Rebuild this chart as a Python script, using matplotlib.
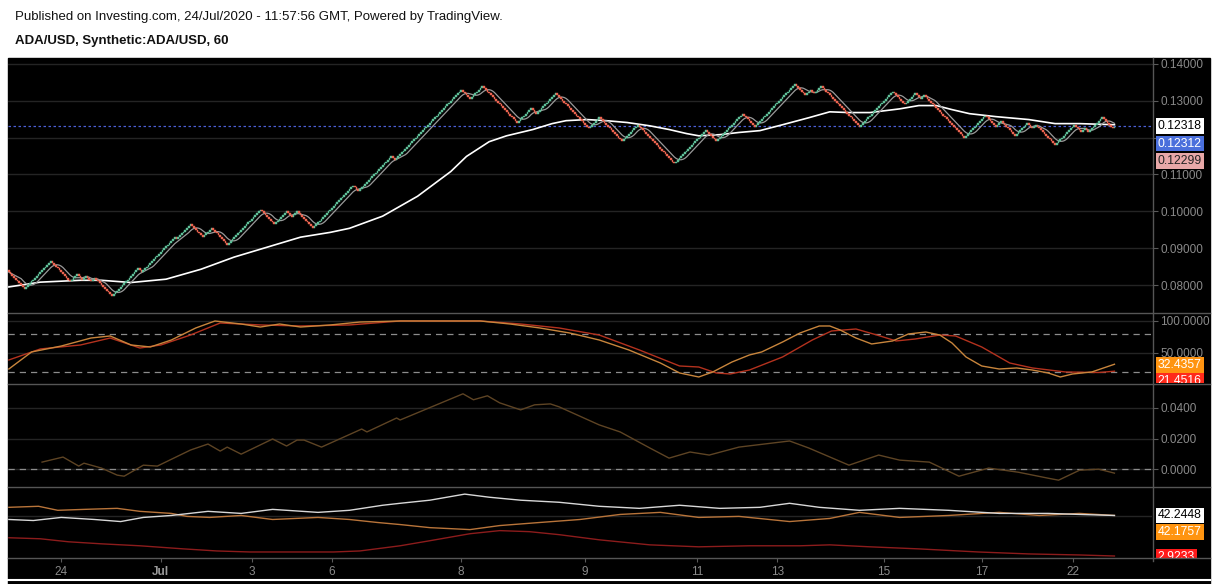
import numpy as np
import pandas as pd
import matplotlib
matplotlib.use("Agg")
import matplotlib.pyplot as plt
from matplotlib.lines import Line2D
from matplotlib.patches import Rectangle

# ---- data ----
# renko reversal levels (price), brick size 0.0005
renko_pivots = [0.0838, 0.0789, 0.0865, 0.0811, 0.0830, 0.0815, 0.0825, 0.0810, 0.0820,
                0.0805, 0.0768, 0.0843, 0.0835, 0.0932, 0.0924, 0.0965, 0.0932, 0.0957,
                0.0911, 0.1005, 0.0965, 0.1000, 0.0986, 0.1000, 0.0954, 0.1068, 0.1054,
                0.1151, 0.1138, 0.1332, 0.1303, 0.1340, 0.1240, 0.1281, 0.1265, 0.1319,
                0.1224, 0.1257, 0.1192, 0.1235, 0.1132, 0.1219, 0.1192, 0.1265, 0.1230,
                0.1343, 0.1316, 0.1332, 0.1322, 0.1338, 0.1230, 0.1327, 0.1292, 0.1322,
                0.1303, 0.1316, 0.1200, 0.1262, 0.1230, 0.1246, 0.1203, 0.1238, 0.1227,
                0.1235, 0.1181, 0.1235, 0.1216, 0.1227, 0.1214, 0.1254, 0.1224, 0.1230]
box_size = 0.0005

# slow moving average (white), x = brick index
slow_ma_x = [0, 18, 41, 53, 70, 90, 110, 129, 148, 167, 184, 195, 214, 234, 253, 262, 275,
             285, 300, 311, 319, 331, 342, 354, 367, 378, 388, 395, 407, 418, 430, 443, 458,
             470, 481, 493, 510, 521, 531, 540, 550, 565, 584, 599, 613, 633]
slow_ma = [0.0795, 0.0808, 0.0813, 0.0813, 0.0807, 0.0816, 0.0843, 0.0876, 0.0903, 0.0930,
           0.0943, 0.0954, 0.0987, 0.1041, 0.1108, 0.1149, 0.1189, 0.1205, 0.1222, 0.1238,
           0.1246, 0.1249, 0.1246, 0.1241, 0.1232, 0.1222, 0.1211, 0.1205, 0.1208, 0.1214,
           0.1219, 0.1235, 0.1254, 0.1270, 0.1268, 0.1268, 0.1278, 0.1287, 0.1287, 0.1276,
           0.1265, 0.1257, 0.1249, 0.1238, 0.1238, 0.1235]

# stochastic
stoch_k_x = [0, 13, 30, 47, 58, 70, 81, 93, 107, 118, 133, 144, 155, 167, 184, 201, 224, 253,
             270, 287, 304, 321, 338, 355, 373, 384, 395, 403, 414, 424, 431, 443, 453, 464,
             470, 476, 485, 494, 506, 515, 525, 533, 540, 548, 557, 567, 577, 586, 595, 602,
             609, 620, 633]
stoch_k = [25.0, 51.6, 60.9, 73.4, 76.6, 62.5, 59.4, 70.3, 89.1, 100.0, 95.3, 90.6, 95.3,
           90.6, 93.8, 98.4, 100.0, 100.0, 100.0, 95.3, 89.1, 81.3, 70.3, 54.7, 34.4, 18.8,
           12.5, 20.3, 35.9, 46.9, 51.6, 67.2, 81.3, 92.2, 92.2, 85.9, 73.4, 64.1, 68.8, 79.7,
           82.8, 78.1, 65.6, 43.8, 29.7, 25.0, 26.6, 23.4, 18.8, 12.5, 17.2, 20.3, 32.4]
stoch_d_x = [0, 18, 41, 58, 75, 87, 104, 121, 144, 167, 195, 224, 270, 293, 315, 338, 361,
             384, 395, 405, 413, 424, 443, 460, 471, 485, 497, 508, 519, 533, 542, 557, 573,
             586, 605, 624, 633]
stoch_d = [39.1, 56.3, 62.5, 73.4, 57.8, 62.5, 78.1, 96.9, 93.8, 92.2, 93.8, 100.0, 100.0,
           95.3, 89.1, 78.1, 54.7, 29.7, 28.1, 18.8, 17.2, 23.4, 43.8, 70.3, 84.4, 87.5, 78.1,
           68.8, 71.9, 78.1, 76.6, 59.4, 34.4, 26.6, 20.3, 19.5, 21.5]

# momentum
mom_x = [19, 31, 40, 43, 53, 62, 66, 77, 85, 104, 114, 121, 125, 133, 151, 159, 165, 169,
         179, 202, 205, 222, 224, 260, 266, 274, 281, 293, 301, 310, 315, 338, 350, 367, 378,
         390, 401, 418, 447, 458, 481, 498, 510, 527, 544, 561, 578, 595, 601, 613, 624, 633]
mom = [0.0046, 0.0079, 0.0020, 0.0039, 0.0007, -0.0039, -0.0046, 0.0026, 0.0020, 0.0125,
       0.0164, 0.0118, 0.0144, 0.0098, 0.0197, 0.0151, 0.0190, 0.0190, 0.0144, 0.0262, 0.0243,
       0.0334, 0.0321, 0.0492, 0.0453, 0.0479, 0.0433, 0.0387, 0.0420, 0.0426, 0.0407, 0.0289,
       0.0243, 0.0138, 0.0072, 0.0112, 0.0092, 0.0144, 0.0184, 0.0138, 0.0026, 0.0092, 0.0059,
       0.0046, -0.0046, 0.0007, -0.0020, -0.0059, -0.0072, -0.0007, 0.0, -0.0026]

# directional movement
dmi_w_x = [0, 14, 30, 49, 64, 77, 93, 114, 133, 151, 177, 195, 214, 224, 241, 261, 275, 293,
           315, 338, 361, 384, 407, 430, 447, 464, 487, 510, 538, 567, 595, 613, 633]
dmi_white = [38.3, 37.3, 40.3, 38.3, 36.3, 40.3, 42.2, 46.2, 44.2, 48.1, 45.2, 47.2, 52.1,
             54.0, 57.0, 62.9, 59.9, 57.0, 55.0, 51.1, 49.1, 52.1, 49.1, 50.1, 54.0, 50.1,
             47.2, 49.1, 47.2, 44.2, 44.2, 43.2, 42.2]
dmi_o_x = [0, 17, 28, 43, 62, 75, 93, 102, 115, 133, 151, 177, 195, 211, 224, 241, 264, 281,
           304, 327, 350, 373, 395, 418, 447, 470, 487, 510, 538, 567, 590, 613, 633]
dmi_orange = [50.1, 51.1, 47.2, 48.1, 49.1, 46.2, 44.2, 41.3, 40.3, 42.2, 38.3, 40.3, 38.3,
              35.4, 33.4, 30.4, 28.5, 32.4, 35.4, 38.3, 43.2, 45.2, 40.3, 41.3, 36.3, 39.3,
              45.2, 40.3, 42.2, 45.2, 42.2, 44.2, 42.2]
dmi_r_x = [0, 18, 34, 53, 75, 100, 119, 138, 167, 186, 201, 224, 241, 264, 281, 298, 315, 338,
           367, 395, 424, 453, 470, 493, 521, 555, 584, 613, 633]
dmi_red = [20.6, 19.6, 16.7, 14.7, 12.8, 9.8, 7.8, 6.8, 6.8, 6.8, 7.8, 12.8, 17.7, 24.5, 27.5,
           26.5, 23.6, 18.6, 13.7, 11.8, 12.8, 12.8, 13.7, 11.8, 9.8, 6.8, 4.9, 3.9, 2.9]

date_ticks = [30, 87, 139, 185, 259, 330, 394, 440, 501, 557, 609]
date_labels = ['24', 'Jul', '3', '6', '8', '9', '11', '13', '15', '17', '22']

# ---- build renko bricks ----
levels = np.round(np.array(renko_pivots) / box_size).astype(int)
brick_low, brick_up = [], []
lvl = levels[0]
for tgt in levels[1:]:
    step = 1 if tgt > lvl else -1
    for k in range(lvl, tgt, step):
        brick_low.append(k if step > 0 else k - 1)
        brick_up.append(step > 0)
    lvl = tgt
brick_low = np.array(brick_low) * box_size
brick_up = np.array(brick_up)
closes = np.where(brick_up, brick_low + box_size, brick_low)
n = len(closes)
bx = np.arange(n)
fast_ma = pd.Series(closes).rolling(8, min_periods=1).mean()

# ---- figure ----
W, H = 1215, 584
fig = plt.figure(figsize=(W / 100, H / 100), dpi=100, facecolor='white')
plt.rcParams['font.family'] = ['Liberation Sans', 'DejaVu Sans']

fig.patches.append(Rectangle((8 / W, 0), (1210 - 8) / W, 1 - 58 / H,
                             transform=fig.transFigure, color='black', zorder=-5))
fig.add_artist(Line2D([8 / W, 1210 / W], [1 - 579.5 / H] * 2, color='white', lw=1.5))

fig.text(15 / W, 1 - 17 / H, 'Published on Investing.com, 24/Jul/2020 - 11:57:56 GMT, Powered by TradingView.',
         fontsize=9.5, va='center', color='#111111')
fig.text(15 / W, 1 - 41 / H, 'ADA/USD, Synthetic:ADA/USD, 60', fontsize=9.5,
         fontweight='bold', va='center', color='#111111')

tick_col = '#8a8a8a'
grid_col = '#242424'
xlim = (-0.5, n - 0.5 + 21)


def px_axes(x0, y0, x1, y1):
    return fig.add_axes([x0 / W, 1 - y1 / H, (x1 - x0) / W, (y1 - y0) / H])


def style(ax, ylim, ticks=None, fmt=None, hidden=()):
    ax.set_facecolor('black')
    ax.set_xlim(*xlim)
    ax.set_ylim(*ylim)
    for s in ax.spines.values():
        s.set_visible(False)
    ax.yaxis.tick_right()
    ax.set_xticks([])
    if ticks is not None:
        ax.set_yticks(ticks)
        # labels hidden behind the last-value boxes are left out
        ax.set_yticklabels(['' if t in hidden else fmt.format(t) for t in ticks])
        for t in ticks:
            ax.axhline(t, color=grid_col, lw=1, zorder=0)
    else:
        ax.set_yticks([])
    ax.tick_params(axis='y', colors='#5a5a5a', labelcolor=tick_col, length=4,
                   labelsize=8.5, pad=2)


ax1 = px_axes(8, 58, 1152, 312)
ax2 = px_axes(8, 313, 1152, 383)
ax3 = px_axes(8, 384, 1152, 486)
ax4 = px_axes(8, 487, 1152, 558)

# price panel
style(ax1, (0.0727, 0.1416), [0.08, 0.09, 0.10, 0.11, 0.12, 0.13, 0.14], '{:.5f}',
      hidden=(0.12,))
ax1.axhline(0.12318, color='#4b5fd6', ls=(0, (2, 2)), lw=0.9, zorder=1)
ax1.plot(slow_ma_x, slow_ma, color='white', lw=1.2, zorder=2)
ax1.plot(bx, fast_ma, color='#9a9a9a', lw=0.9, zorder=2)
brick_cols = np.where(brick_up, '#5fbf98', '#ec6450')
ax1.bar(bx, box_size, bottom=brick_low, width=1.0, color=brick_cols,
        edgecolor=brick_cols, linewidth=0.3, zorder=3)

# stochastic
style(ax2, (3.1, 112.5), [50, 100], '{:.4f}')
for lv in (80, 20):
    ax2.axhline(lv, color='#8c8c8c', ls=(0, (5, 4)), lw=0.9)
ax2.plot(stoch_d_x, stoch_d, color='#b4321e', lw=1.0)
ax2.plot(stoch_k_x, stoch_k, color='#c8853c', lw=1.0)

# momentum
style(ax3, (-0.011, 0.0556), [0.0, 0.02, 0.04], '{:.4f}')
ax3.axhline(0, color='#8c8c8c', ls=(0, (5, 4)), lw=0.9)
ax3.plot(mom_x, mom, color='#5e4424', lw=1.0)

# directional movement
style(ax4, (0.96, 69.8))
ax4.axhline(41.3, color=grid_col, lw=1, zorder=0)
ax4.plot(dmi_r_x, dmi_red, color='#8c1c1c', lw=1.0)
ax4.plot(dmi_o_x, dmi_orange, color='#b8743a', lw=1.0)
ax4.plot(dmi_w_x, dmi_white, color='#d8d8d8', lw=1.0)
ax4.set_xticks(date_ticks)
ax4.set_xticklabels(date_labels)
ax4.tick_params(axis='x', colors='#5a5a5a', labelcolor=tick_col, length=3,
                labelsize=8.5, pad=3)
for lab in ax4.get_xticklabels():
    if lab.get_text() == 'Jul':
        lab.set_fontweight('bold')
        lab.set_color('#9a9a9a')

# separators and right axis line
for y in (312.5, 383.5, 486.5, 558):
    fig.add_artist(Line2D([8 / W, 1210 / W], [1 - y / H] * 2, color='#555555', lw=1))
fig.add_artist(Line2D([1152.5 / W] * 2, [1 - 58 / H, 1 - 561 / H], color='#555555', lw=1))


# last value labels
def value_labels(y0, y1, ylim, items):
    lab = px_axes(1152, y0, 1210, y1)
    lab.set_xlim(0, 1)
    lab.set_ylim(*ylim)
    lab.axis('off')
    lab.patch.set_alpha(0)
    for yv, txt, bg, fg in items:
        lab.text(0.1, yv, txt, color=fg, fontsize=8.8, va='center', ha='left', clip_on=True,
                 bbox=dict(boxstyle='square,pad=0.15', fc=bg, ec='none'))


value_labels(58, 312, (0.0727, 0.1416), [
    (0.12318, '0.12318', 'white', 'black'),
    (0.11840, '0.12312', '#4a6fdc', 'white'),
    (0.11360, '0.12299', '#e8a8a8', '#222222')])
value_labels(313, 383, (3.1, 112.5), [
    (31.2, '32.4357', '#ff9410', 'white'),
    (6.5, '21.4516', '#ff2a1a', 'white')])
value_labels(487, 558, (0.96, 69.8), [
    (42.24, '42.2448', 'white', 'black'),
    (26.0, '42.1757', '#ff9410', 'white'),
    (2.3, '2.9233', '#ff1a1a', 'white')])

fig.savefig('out.png', dpi=100, facecolor='white')
